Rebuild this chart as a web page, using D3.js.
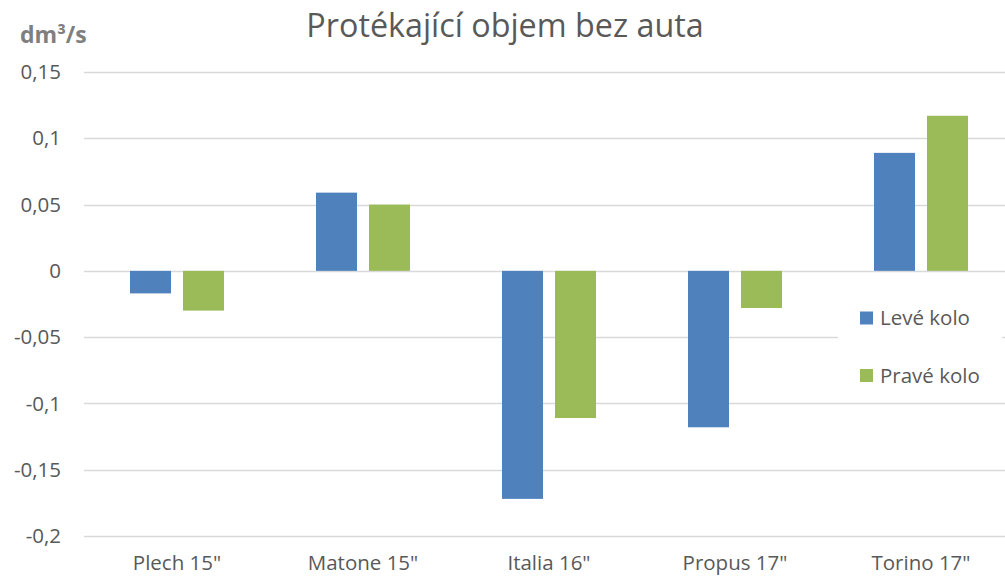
<!DOCTYPE html>
<html><head><meta charset="utf-8">
<script src="https://cdn.jsdelivr.net/npm/d3@7"></script>
<style>body{margin:0;background:#fff}svg{display:block}text{font-family:"Open Sans","Noto Sans",sans-serif}</style>
</head><body><svg id="c" width="1005" height="577"></svg>
<script>
const categories = ["Plech 15\"", "Matone 15\"", "Italia 16\"", "Propus 17\"", "Torino 17\""];
const seriesNames = ["Levé kolo", "Pravé kolo"];
const leveKolo = [-0.017, 0.059, -0.172, -0.118, 0.089];
const praveKolo = [-0.030, 0.050, -0.111, -0.028, 0.117];
const yTicks = [-0.2, -0.15, -0.1, -0.05, 0, 0.05, 0.1, 0.15];
const colors = ["#4F81BD", "#9BBB59"];
const seriesValues = [leveKolo, praveKolo];

const svg = d3.select("#c");
const y = d3.scaleLinear().domain([-0.2, 0.15]).range([536, 72]);
const x0 = d3.scaleBand().domain(categories).range([84, 1014]).padding(0);
const x1 = d3.scaleBand().domain(seriesNames).range([-47, 47]).paddingInner(0.2264);
const fmt = v => (v === 0 ? "0" : String(+v.toFixed(2)).replace(".", ","));

// gridlines
svg.append("g").selectAll("line").data(yTicks).join("line")
  .attr("x1", 84).attr("x2", 1005)
  .attr("y1", d => Math.round(y(d)) + 0.5).attr("y2", d => Math.round(y(d)) + 0.5)
  .attr("stroke", "#d9d9d9").attr("stroke-width", 1.3);

// y tick labels
svg.append("g").selectAll("text").data(yTicks).join("text")
  .attr("x", 61).attr("y", d => y(d)).attr("dy", "0.35em")
  .attr("text-anchor", "end").attr("font-size", 20.5).attr("fill", "#595959")
  .text(fmt);

// bars
seriesNames.forEach((s, si) => {
  svg.append("g").selectAll("rect").data(categories).join("rect")
    .attr("x", c => x0(c) + x0.bandwidth() / 2 + x1(s))
    .attr("width", x1.bandwidth())
    .attr("y", (c, i) => y(Math.max(0, seriesValues[si][i])))
    .attr("height", (c, i) => Math.abs(y(seriesValues[si][i]) - y(0)))
    .attr("fill", colors[si]);
});

// category labels
svg.append("g").selectAll("text").data(categories).join("text")
  .attr("x", c => x0(c) + x0.bandwidth() / 2).attr("y", 570)
  .attr("text-anchor", "middle").attr("font-size", 20.5).attr("fill", "#595959")
  .text(c => c);

// title
svg.append("text").attr("x", 505).attr("y", 37).attr("text-anchor", "middle")
  .attr("font-size", 32.3).attr("fill", "#595959").text("Protékající objem bez auta");

// unit
svg.append("text").attr("x", 20).attr("y", 43).attr("font-size", 23)
  .attr("font-weight", "bold").attr("fill", "#7f7f7f").text("dm³/s");

// legend
const lg = svg.append("g");
lg.append("rect").attr("x", 838).attr("y", 296).attr("width", 164).attr("height", 102).attr("fill", "#fff");
seriesNames.forEach((s, i) => {
  const yy = 318 + i * 57.5;
  lg.append("rect").attr("x", 860).attr("y", yy - 6.5).attr("width", 13).attr("height", 13).attr("fill", colors[i]);
  lg.append("text").attr("x", 880).attr("y", yy + 7)
    .attr("font-size", 20.5).attr("fill", "#595959").text(s);
});
</script></body></html>
